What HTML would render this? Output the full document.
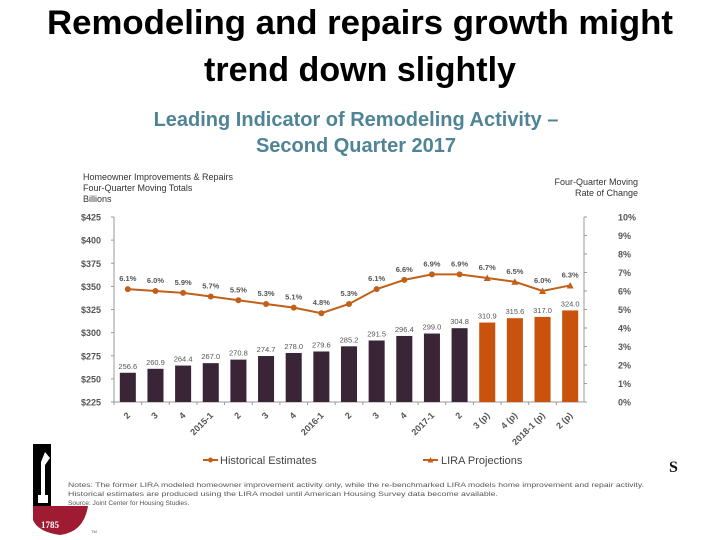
<!DOCTYPE html>
<html><head><meta charset="utf-8"><style>
html,body{margin:0;padding:0;background:#fff;}
svg{display:block;font-family:"Liberation Sans",sans-serif;}
</style></head><body>
<svg id="c" width="720" height="540" viewBox="0 0 720 540">
<text x="360" y="34" text-anchor="middle" font-size="34" font-weight="bold" fill="#000" textLength="626" lengthAdjust="spacingAndGlyphs">Remodeling and repairs growth might</text>
<text x="360" y="81" text-anchor="middle" font-size="34" font-weight="bold" fill="#000" textLength="312" lengthAdjust="spacingAndGlyphs">trend down slightly</text>
<text x="356" y="126" text-anchor="middle" font-size="20" font-weight="bold" fill="#4f8496">Leading Indicator of Remodeling Activity –</text>
<text x="356" y="152" text-anchor="middle" font-size="20" font-weight="bold" fill="#4f8496">Second Quarter 2017</text>
<g font-size="9" fill="#333">
<text x="83" y="180">Homeowner Improvements &amp; Repairs</text>
<text x="83" y="191">Four-Quarter Moving Totals</text>
<text x="83" y="202">Billions</text></g>
<g font-size="9" fill="#333" text-anchor="end">
<text x="638" y="185">Four-Quarter Moving</text>
<text x="638" y="196">Rate of Change</text></g>
<g id="axes"></g><g id="bars"></g><g id="line"></g><g id="labels"></g>
<g>
<line x1="203" y1="460" x2="218" y2="460" stroke="#c0601a" stroke-width="2"/><circle cx="210.5" cy="460" r="2.5" fill="#c0601a"/>
<text x="220" y="464" font-size="11" fill="#444">Historical Estimates</text>
<line x1="423" y1="460" x2="438" y2="460" stroke="#c0601a" stroke-width="2"/><path d="M427.5,462.5 L430.5,457 L433.5,462.5Z" fill="#c0601a"/>
<text x="441" y="464" font-size="11" fill="#444">LIRA Projections</text></g>
<text x="669" y="472" font-size="16" font-weight="bold" font-family="Liberation Serif,serif" fill="#111">S</text>
<g font-size="6.6" fill="#555">
<text x="68" y="487" textLength="576" lengthAdjust="spacingAndGlyphs">Notes: The former LIRA modeled homeowner improvement activity only, while the re-benchmarked LIRA models home improvement and repair activity.</text>
<text x="68" y="496" textLength="430" lengthAdjust="spacingAndGlyphs">Historical estimates are produced using the LIRA model until American Housing Survey data become available.</text>
<text x="68" y="505">Source: Joint Center for Housing Studies.</text></g>
<g>
<rect x="33" y="444" width="18" height="62" fill="#000"/>
<path d="M45,452 L41,462 L41,495 L38,495 L38,503 L48,503 L48,495 L45,495 L45,465 L50,458Z" fill="#fff"/>
<path d="M33,506 L88,506 Q84,532 60,535 Q38,532 33,520Z" fill="#9e1b32"/>
<text x="41" y="528" font-size="9" font-weight="bold" font-family="Liberation Serif,serif" fill="#fff">1785</text>
<text x="91" y="533" font-size="4" fill="#555">TM</text></g>
</svg>
<script>
const categories=["2","3","4","2015-1","2","3","4","2016-1","2","3","4","2017-1","2","3 (p)","4 (p)","2018-1 (p)","2 (p)"];
const spending=[256.6,260.9,264.4,267.0,270.8,274.7,278.0,279.6,285.2,291.5,296.4,299.0,304.8,310.9,315.6,317.0,324.0];
const growth=[6.1,6.0,5.9,5.7,5.5,5.3,5.1,4.8,5.3,6.1,6.6,6.9,6.9,6.7,6.5,6.0,6.3];
const projected=[false,false,false,false,false,false,false,false,false,false,false,false,false,true,true,true,true];
const leftTicks=[225,250,275,300,325,350,375,400,425];
const rightTicks=[0,1,2,3,4,5,6,7,8,9,10];
const NS="http://www.w3.org/2000/svg";
const X0=114,X1=584,Y0=402,Y1=217;
const band=(X1-X0)/categories.length;
const xc=i=>X0+band*(i+0.5);
const yL=v=>Y0-(v-225)/(425-225)*(Y0-Y1);
const yR=v=>Y0-v/10*(Y0-Y1);
function mk(tag,attrs,parent,txt){const e=document.createElementNS(NS,tag);for(const k in attrs)e.setAttribute(k,attrs[k]);if(txt!==undefined)e.textContent=txt;document.getElementById(parent).appendChild(e);return e;}
let e;
e=mk("line",{x1:X0,y1:Y1,x2:X0,y2:Y0,stroke:"#999"},"axes");


e=mk("line",{x1:X1,y1:Y1,x2:X1,y2:Y0,stroke:"#999"},"axes");


e=mk("line",{x1:X0,y1:Y0,x2:X1,y2:Y0,stroke:"#999"},"axes");


leftTicks.forEach(v=>{mk("line",{x1:X0-3,x2:X0,y1:yL(v),y2:yL(v),stroke:"#999"},"axes");
e=mk("text",{x:81,y:yL(v)+3.5,"font-size":9,"font-weight":"bold",fill:"#555"},"axes","$"+v);

});
rightTicks.forEach(v=>{mk("line",{x1:X1,x2:X1+3,y1:yR(v),y2:yR(v),stroke:"#999"},"axes");
e=mk("text",{x:618,y:yR(v)+3.5,"font-size":9,"font-weight":"bold",fill:"#555"},"axes",v+"%");

});
categories.forEach((c,i)=>{
 mk("line",{x1:X0+band*i,x2:X0+band*i,y1:Y0,y2:Y0+3,stroke:"#999"},"axes");
 const x=xc(i),y=Y0+14;
 e=mk("text",{x:x+3,y:y,"font-size":9,"font-weight":"bold",fill:"#555","text-anchor":"end",transform:`rotate(-45 ${x+3} ${y})`},"axes",c);
 
 
 const bw=band*0.58;
 e=mk("rect",{x:x-bw/2,y:yL(spending[i]),width:bw,height:Y0-yL(spending[i]),fill:projected[i]?"#c9520c":"#3a2537"},"bars");
 
 
 e=mk("text",{x:x,y:yL(spending[i])-4,"font-size":7.5,fill:"#555","text-anchor":"middle"},"labels",spending[i].toFixed(1));
 
 
});
let d="";growth.forEach((g,i)=>{d+=(i?"L":"M")+xc(i)+","+yR(g);});
e=mk("path",{d:d,fill:"none",stroke:"#c0601a","stroke-width":2},"line");


growth.forEach((g,i)=>{
 const x=xc(i),y=yR(g);
 if(projected[i]||i===12&&false){e=mk("path",{d:`M${x-3.5},${y+3} L${x},${y-3.5} L${x+3.5},${y+3}Z`,fill:"#c0601a"},"line");}
 else if(i>=13){}
 else{e=mk("circle",{cx:x,cy:y,r:3,fill:"#c0601a"},"line");}
 
 
 e=mk("text",{x:x,y:y-8,"font-size":7.5,"font-weight":"bold",fill:"#555","text-anchor":"middle"},"labels",g.toFixed(1)+"%");
 
 
});
</script>
</body></html>
